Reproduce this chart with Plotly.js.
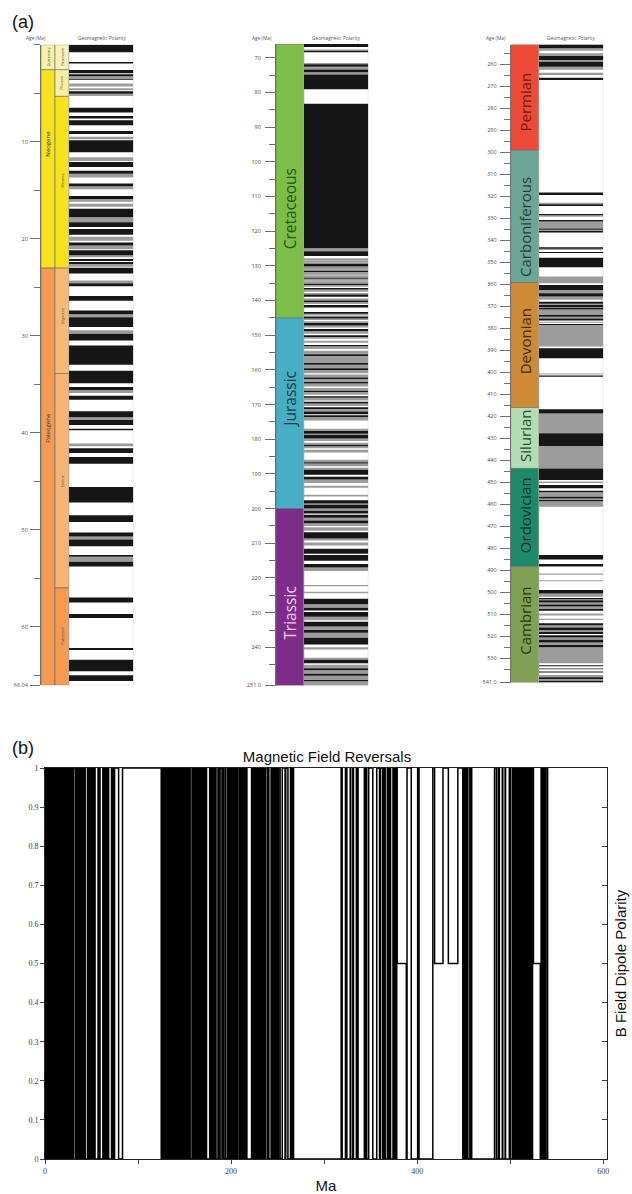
<!DOCTYPE html>
<html><head><meta charset="utf-8">
<script src="https://cdn.plot.ly/plotly-3.0.1.min.js"></script>
<style>html,body{margin:0;padding:0;background:#fff}#chart{width:632px;height:1194px}</style>
</head><body><div id="chart"></div>
<script>
// ---------------- DATA ----------------
// Geologic periods / epochs (Ma, top of each unit)
const cenoPeriods = ['Quaternary','Neogene','Paleogene'];
const cenoPeriodTop = [0, 2.58, 23.03];
const cenoEpochs = ['Pleistocene','Pliocene','Miocene','Oligocene','Eocene','Paleocene'];
const cenoEpochTop = [0, 2.58, 5.33, 23.03, 33.9, 56.0];
const cenoBase = 66.04;
const mesoPeriods = ['Cretaceous','Jurassic','Triassic'];
const mesoPeriodTop = [66.04, 145.0, 200.0];
const mesoBase = 251.0;
const paleoPeriods = ['Permian','Carboniferous','Devonian','Silurian','Ordovician','Cambrian'];
const paleoPeriodTop = [251.0, 299.0, 359.2, 416.0, 443.7, 488.3];
const paleoBase = 541.0;

// Geomagnetic polarity: start age (Ma) of each interval and its state
// N = normal (black), R = reversed (white), G = uncertain (grey)
const cenoPolStart = [0,0.78,1.78,1.95,2.6,2.95,3.05,3.25,3.55,3.65,4.0,4.3,4.5,4.7,4.8,5.05,5.3,6.5,7.0,7.35,7.6,7.8,8.3,8.9,9.2,9.5,9.75,9.85,11.1,11.6,12.0,12.1,12.6,13.0,13.3,13.7,14.3,14.6,14.9,15.6,15.9,16.2,16.4,16.7,16.9,17.8,18.3,18.8,19.0,19.6,19.8,20.2,20.4,20.7,21.1,21.2,21.7,21.9,22.1,22.3,22.4,22.6,22.9,23.0,23.6,24.3,24.6,24.9,25.9,26.4,27.4,27.8,28.1,29.1,29.45,29.8,30.5,31.0,33.0,33.6,34.9,35.3,35.6,35.9,36.2,36.6,37.8,38.4,38.7,39.2,39.6,39.75,41.1,41.4,41.6,42.1,42.5,43.2,45.6,47.2,48.5,49.2,50.3,50.7,51.0,51.7,52.6,52.8,53.3,53.8,57.0,57.5,58.7,59.1,62.2,62.4,63.4,64.6,65.0,65.6];
const cenoPolState = ['N','R','N','R','N','R','N','G','N','R','G','R','G','R','N','G','R','N','R','N','R','N','R','N','R','G','R','N','R','G','R','N','R','N','G','R','N','G','R','N','G','R','G','R','N','G','N','R','N','R','G','R','N','G','R','N','G','R','N','R','N','G','R','N','R','G','N','R','N','R','N','G','N','R','G','N','R','N','R','N','R','N','G','R','N','R','N','G','N','R','N','R','G','R','N','R','N','R','N','R','N','R','N','G','N','R','N','G','N','R','N','R','N','R','N','R','N','R','N','R'];

const mesoPolStart = [66.04,66.9,67.6,68.0,68.4,71.5,71.9,72.6,73.4,74.2,74.8,79.1,83.3,124.9,125.8,127.2,127.8,128.4,129.0,129.4,130.2,131.0,131.4,131.8,132.5,132.8,133.4,133.7,134.3,134.6,135.2,135.5,136.0,136.4,136.8,137.5,137.8,138.3,138.9,139.4,140.0,140.4,141.0,141.3,142.0,143.3,143.8,144.3,144.6,145.2,145.6,146.0,146.5,147.2,147.8,148.2,148.8,149.6,150.0,150.5,151.0,151.6,152.2,152.8,153.2,154.0,154.5,155.5,156.0,158.0,158.5,159.5,160.0,161.0,161.3,162.2,162.6,163.5,163.9,164.8,165.2,166.0,166.4,167.2,167.6,168.0,168.8,169.2,169.7,170.4,170.8,171.3,172.0,172.8,173.1,173.6,174.6,177.0,177.6,178.4,178.8,179.8,180.5,181.0,181.6,182.0,182.6,183.0,183.8,185.9,186.6,187.0,187.8,188.2,188.8,190.2,190.8,191.6,192.6,193.4,194.0,196.0,196.5,197.6,198.5,198.9,200.0,200.6,201.4,201.8,202.6,203.4,204.2,205.0,205.4,206.4,206.8,208.6,209.2,209.8,210.6,211.6,213.0,213.4,215.0,216.0,217.0,218.0,222.0,222.4,224.0,224.4,226.0,227.6,228.6,229.4,229.8,231.2,232.2,232.6,234.0,235.0,235.8,237.2,239.2,240.0,240.6,243.0,243.6,244.6,245.0,246.0,246.6,247.6,248.2,249.4,249.8];
const mesoPolState = ['N','R','G','N','R','G','N','G','N','G','N','R','N','G','N','R','G','G','G','N','G','G','N','G','G','G','N','G','G','G','N','G','R','N','G','R','G','N','R','G','N','G','R','N','R','N','G','R','N','G','R','G','N','G','R','N','G','R','N','G','R','G','R','N','G','R','G','N','G','N','G','N','G','R','G','N','G','N','G','R','G','N','G','R','N','G','R','N','G','R','N','G','N','R','N','G','R','G','N','G','N','G','R','G','N','G','R','G','R','G','N','G','R','G','N','R','N','G','R','G','R','G','R','N','G','N','G','N','R','N','G','N','G','R','G','R','N','G','R','G','R','N','R','N','R','N','G','R','G','R','G','R','N','G','N','R','N','G','R','N','G','N','G','N','R','G','R','G','N','R','G','N','G','N','G','N','G'];

const paleoPolStart = [251.0,252.7,253.8,255.0,256.2,258.0,258.8,261.1,262.5,263.8,264.9,266.1,267.1,318.3,319.4,322.9,323.6,324.4,328.0,328.6,329.3,330.8,331.5,334.6,335.2,335.8,336.5,343.2,343.8,344.4,345.3,345.8,347.9,352.3,356.5,359.5,360.3,362.6,364.1,365.6,367.0,367.9,368.8,369.4,370.4,370.8,371.4,374.0,374.8,375.6,376.5,377.0,377.5,378.0,378.5,388.3,389.1,393.6,400.5,401.0,401.5,402.0,416.8,418.7,427.7,433.5,443.7,449.0,449.6,450.3,451.2,452.7,453.8,454.5,456.6,457.4,458.1,458.6,461.1,483.1,485.1,487.1,488.3,491.5,492.0,494.5,495.0,499.0,500.5,502.0,502.6,503.3,503.6,504.6,505.6,506.4,507.6,508.4,509.6,510.6,512.0,512.6,514.1,515.0,516.0,517.2,518.0,519.0,519.5,520.6,521.6,522.8,524.0,525.0,532.3,533.2,533.6,534.6,535.0,536.0,536.4,537.6,538.6,539.4,540.2];
const paleoPolState = ['N','G','R','G','N','G','N','G','R','G','R','N','R','N','R','G','N','R','N','G','R','N','G','N','G','N','R','N','G','R','N','R','N','R','G','R','N','G','N','G','R','N','G','N','G','N','G','N','G','N','R','G','R','N','G','R','N','R','G','R','N','R','N','G','N','G','N','R','G','R','N','R','N','G','N','G','N','G','R','N','R','N','R','G','R','G','R','N','G','R','N','R','N','G','N','G','N','R','G','R','G','R','N','G','N','G','N','R','N','G','N','G','N','G','R','N','R','N','R','N','R','G','N','G','N'];

// Tick labels
const cenoTicks = [10,20,30,40,50,60,66.04];
const cenoTickText = ['10','20','30','40','50','60','66.04'];
const mesoTicks = [70,80,90,100,110,120,130,140,150,160,170,180,190,200,210,220,230,240,251];
const mesoTickText = ['70','80','90','100','110','120','130','140','150','160','170','180','190','200','210','220','230','240','251.0'];
const paleoTicks = [260,270,280,290,300,310,320,330,340,350,360,370,380,390,400,410,420,430,440,450,460,470,480,490,500,510,520,530,541];
const paleoTickText = ['260','270','280','290','300','310','320','330','340','350','360','370','380','390','400','410','420','430','440','450','460','470','480','490','500','510','520','530','541.0'];
const revTicks = [0,100,200,300,400,500,600];
const revTickText = ['0','','200','','400','','600'];
const polTicks = [0,0.1,0.2,0.3,0.4,0.5,0.6,0.7,0.8,0.9,1];
const polTickText = ['0','0.1','0.2','0.3','0.4','0.5','0.6','0.7','0.8','0.9','1'];

// ---------------- STYLE ----------------
const unitColor = {
  Quaternary:'#F7F2A8', Neogene:'#F6E31E', Paleogene:'#F49A52',
  Pleistocene:'#F9F4B6', Pliocene:'#F8EFA2', Miocene:'#F6E31E',
  Oligocene:'#F8B978', Eocene:'#F7B474', Paleocene:'#F49A52',
  Cretaceous:'#7DBE48', Jurassic:'#46AFC3', Triassic:'#7E2C8A',
  Permian:'#EE4B36', Carboniferous:'#6DA596', Devonian:'#CD8B37',
  Silurian:'#B5DDB2', Ordovician:'#1D8B6B', Cambrian:'#80A052'
};
const labelColor = {
  Cretaceous:'#2A5418', Jurassic:'#1C3C48', Triassic:'#F2CDEE',
  Permian:'#6E1A10', Carboniferous:'#22423B', Devonian:'#4A2C08',
  Silurian:'#2C4A2E', Ordovician:'#0C3526', Cambrian:'#2C3818'
};
const labelAge = {Cretaceous:113.7, Jurassic:168.6, Triassic:230, Permian:277, Carboniferous:334,
  Devonian:386, Silurian:429, Ordovician:465, Cambrian:513, Neogene:10.2, Paleogene:39.5};
const polColor = {N:'#161616', G:'#9c9c9c'};

const W = 632, H = 1194;
const fx = p => p / W;
const fy = p => 1 - p / H;

function units(tops, end){
  return tops.map((t,i)=>({top:t, base: i < tops.length-1 ? tops[i+1] : end}));
}

const traces = [];
const annotations = [];

function unitBars(names, tops, end, xa, ya, xc, w){
  const u = units(tops, end);
  traces.push({type:'bar', xaxis:xa, yaxis:ya, x:u.map(()=>xc), base:u.map(d=>d.top),
    y:u.map(d=>d.base-d.top), width:u.map(()=>w),
    marker:{color:names.map(n=>unitColor[n]), line:{color:'#6a6a6a', width:0.6}},
    hoverinfo:'skip', showlegend:false});
}

function polarityBars(starts, states, end, xa, ya, xc, w){
  traces.push({type:'bar', xaxis:xa, yaxis:ya, x:[xc], base:[starts[0]], y:[end-starts[0]], width:[w],
    marker:{color:'#ffffff', line:{color:'#c8c8c8', width:0.8}}, hoverinfo:'skip', showlegend:false});
  const u = units(starts, end);
  ['G','N'].forEach(s=>{
    const sel = u.filter((d,i)=>states[i]===s);
    traces.push({type:'bar', xaxis:xa, yaxis:ya, x:sel.map(()=>xc), base:sel.map(d=>d.top),
      y:sel.map(d=>d.base-d.top), width:sel.map(()=>w),
      marker:{color:polColor[s], line:{width:0}}, hoverinfo:'skip', showlegend:false});
  });
}

unitBars(cenoPeriods, cenoPeriodTop, cenoBase, 'x', 'y', 7, 14);
unitBars(cenoEpochs, cenoEpochTop, cenoBase, 'x', 'y', 21, 14);
polarityBars(cenoPolStart, cenoPolState, cenoBase, 'x', 'y', 60.2, 64.3);
unitBars(mesoPeriods, mesoPeriodTop, mesoBase, 'x2', 'y2', 14, 28);
polarityBars(mesoPolStart, mesoPolState, mesoBase, 'x2', 'y2', 60.15, 64.3);
unitBars(paleoPeriods, paleoPeriodTop, paleoBase, 'x3', 'y3', 14.15, 28.3);
polarityBars(paleoPolStart, paleoPolState, paleoBase, 'x3', 'y3', 60.45, 64.3);

// Panel (b): step line of polarity through time.
// Long uncertain intervals sit at 0.5; short ones are drawn as a flip of the field.
const stepX = [], stepY = [];
[[cenoPolStart,cenoPolState,mesoPolStart[0]],[mesoPolStart,mesoPolState,paleoPolStart[0]],[paleoPolStart,paleoPolState,paleoBase]].forEach(([s,st,end])=>{
  s.forEach((a,i)=>{
    const dur = (i < s.length-1 ? s[i+1] : end) - a;
    const prev = stepY.length ? stepY[stepY.length-1] : 0;
    let v;
    if (st[i]==='N') v = 1;
    else if (st[i]==='R') v = 0;
    else v = dur >= 4 ? 0.5 : (prev === 1 ? 0 : 1);
    stepX.push(a); stepY.push(v);
  });
});
stepX.push(paleoBase); stepY.push(stepY[stepY.length-1]);
traces.push({type:'scatter', mode:'lines', xaxis:'x4', yaxis:'y4', x:stepX, y:stepY,
  line:{shape:'hv', color:'#000000', width:1.5}, hoverinfo:'skip', showlegend:false});
traces.push({type:'scatter', mode:'lines', xaxis:'x4', yaxis:'y5', x:[0], y:[0],
  line:{width:0}, hoverinfo:'skip', showlegend:false});

function periodLabel(name, xa, ya, xc, size){
  annotations.push({xref:xa, yref:ya, x:xc, y:labelAge[name], text:name, showarrow:false, textangle:-90,
    xanchor:'center', yanchor:'middle',
    font:{family:'Open Sans, Noto Sans, sans-serif', size:size, color:labelColor[name] || '#333'}});
}
mesoPeriods.forEach(n=>periodLabel(n,'x2','y2',14,15.5));
paleoPeriods.forEach(n=>periodLabel(n,'x3','y3',14.15,15));
periodLabel('Neogene','x','y',7,6);
periodLabel('Paleogene','x','y',7,6);
const epochLabelAge = {Quaternary:1.3, Pleistocene:1.3, Pliocene:3.9, Miocene:14, Oligocene:28, Eocene:45, Paleocene:61};
[['Quaternary',7],['Pleistocene',21],['Pliocene',21],['Miocene',21],['Oligocene',21],['Eocene',21],['Paleocene',21]].forEach(([n,xc])=>{
  annotations.push({xref:'x', yref:'y', x:xc, y:epochLabelAge[n], text:n, showarrow:false, textangle:-90,
    xanchor:'center', yanchor:'middle',
    font:{family:'Open Sans, sans-serif', size:3.5, color:'#555'}});
});

function header(text, xpx, ypx){
  annotations.push({xref:'paper', yref:'paper', x:fx(xpx), y:fy(ypx), text:text, showarrow:false,
    xanchor:'center', yanchor:'middle', font:{family:'Open Sans, sans-serif', size:4.8, color:'#555'}});
}
header('Age (Ma)', 36, 38); header('Geomagnetic Polarity', 102, 38);
header('Age (Ma)', 262, 38); header('Geomagnetic Polarity', 336, 38);
header('Age (Ma)', 496, 38); header('Geomagnetic Polarity', 571, 38);

annotations.push({xref:'paper', yref:'paper', x:fx(23), y:fy(22), text:'(a)', showarrow:false,
  xanchor:'center', yanchor:'middle',
  font:{family:'Liberation Sans, Arial, sans-serif', size:18, color:'#111'}});
annotations.push({xref:'paper', yref:'paper', x:fx(23), y:fy(748), text:'(b)', showarrow:false,
  xanchor:'center', yanchor:'middle',
  font:{family:'Liberation Sans, Arial, sans-serif', size:18, color:'#111'}});

function ageAxis(domTop, domBot, range, tv, tt, minorVals, anchor, standoff){
  return {domain:[fy(domBot), fy(domTop)], range:range, anchor:anchor, showgrid:false, zeroline:false,
    showline:true, linecolor:'#707070', linewidth:1, ticks:'outside', ticklen:10, tickcolor:'#707070', tickwidth:1,
    tickvals:tv, ticktext:tt, ticklabelstandoff:standoff,
    tickfont:{family:'Open Sans, sans-serif', size:5.5, color:'#4a4a4a'},
    minor:{tickvals:minorVals, ticks:'outside', ticklen:6, tickcolor:'#707070', tickwidth:1}};
}
function range5(a,b){const r=[];for(let v=a;v<=b;v+=10)r.push(v);return r;}
function hiddenX(l, r, rng){ return {domain:[fx(l), fx(r)], range:rng, visible:false, fixedrange:true}; }

const layout = {
  width:W, height:H, margin:{l:0,r:0,t:0,b:0}, paper_bgcolor:'#fff', plot_bgcolor:'rgba(0,0,0,0)',
  barmode:'overlay', showlegend:false,
  title:{text:'Magnetic Field Reversals', x:fx(327), y:fy(757), xanchor:'center', yanchor:'middle', xref:'paper', yref:'paper',
    font:{family:'Liberation Sans, Arial, sans-serif', size:15, color:'#111'}},
  xaxis: hiddenX(41, 133.3, [0, 92.3]),
  xaxis2: hiddenX(276, 368.3, [0, 92.3]),
  xaxis3: hiddenX(510.7, 603.3, [0, 92.6]),
  yaxis: ageAxis(44.7, 685.3, [cenoBase, 0], cenoTicks, cenoTickText, [0].concat(range5(5,65)), 'x', 1),
  yaxis2: ageAxis(44, 685.5, [mesoBase, mesoPeriodTop[0]], mesoTicks, mesoTickText, range5(75,245), 'x2', 3),
  yaxis3: ageAxis(44.5, 682.5, [paleoBase, paleoPeriodTop[0]], paleoTicks, paleoTickText, range5(255,535), 'x3', 2),
  xaxis4: {domain:[fx(45), fx(607)], range:[0,604], anchor:'y4', showgrid:false, zeroline:false,
    showline:true, mirror:true, linecolor:'#222', linewidth:1, ticks:'outside', ticklen:4, tickcolor:'#444',
    tickvals:revTicks, ticktext:revTickText,
    tickfont:{family:'Liberation Serif, serif', size:8, color:'#444444'},
    title:{text:'Ma', standoff:6, font:{family:'Liberation Sans, Arial, sans-serif', size:15, color:'#111'}}},
  yaxis4: {domain:[fy(1159), fy(768)], range:[0,1], anchor:'x4', showgrid:false, zeroline:false,
    showline:true, linecolor:'#222', linewidth:1, ticks:'outside', ticklen:4, tickcolor:'#444',
    tickvals:polTicks, ticktext:polTickText,
    tickfont:{family:'Liberation Serif, serif', size:8, color:'#444444'}},
  yaxis5: {domain:[fy(1159), fy(768)], range:[0,1], overlaying:'y4', anchor:'x4', side:'right', showgrid:false, zeroline:false,
    showline:true, linecolor:'#222', linewidth:1, ticks:'inside', ticklen:5, tickcolor:'#444',
    tickvals:polTicks, showticklabels:false,
    title:{text:'B Field Dipole Polarity', standoff:8, font:{family:'Liberation Sans, Arial, sans-serif', size:15, color:'#111'}}},
  annotations: annotations
};

Plotly.newPlot('chart', traces, layout, {staticPlot:true, displayModeBar:false});
</script>
</body></html>
